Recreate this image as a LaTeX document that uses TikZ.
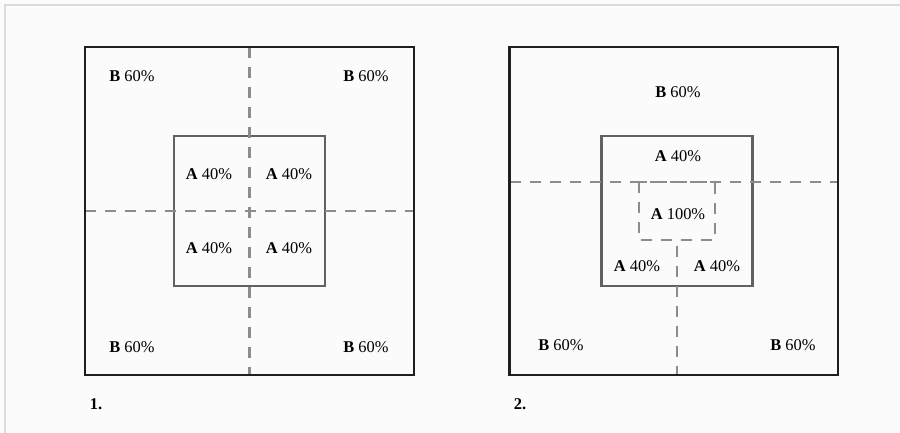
\documentclass[tikz,border=0pt]{standalone}
\usepackage{fontspec}
\setmainfont{Liberation Serif}
\begin{document}
\begin{tikzpicture}[x=1bp,y=-1bp,
  outerbox/.style={draw=black!88,line width=2.6bp},
  innerbox/.style={draw=black!62,line width=2.4bp},
  divider/.style={draw=black!45,line width=2.4bp,dash pattern=on 11bp off 9bp},
  share/.style={inner sep=0pt,font=\fontsize{16.5}{19}\selectfont},
  tag/.style={inner sep=0pt,font=\fontsize{16.5}{19}\selectfont\bfseries}]
  % page background and frame edges
  \fill[black!1.5] (0,0) rectangle (900,433);
  \useasboundingbox (0,0) rectangle (900,433);
  \coordinate (fTL) at (5,433);
  \coordinate (fC) at (5,5);
  \coordinate (fTR) at (900,5);
  \draw[black!14,line width=1.2bp] (fTL) -- (fC) -- (fTR);

  % ---------- panel 1 ----------
  \coordinate (o1a) at (85,47);   \coordinate (o1b) at (414,375);
  \coordinate (i1a) at (174,136); \coordinate (i1b) at (325,286);
  \coordinate (v1t) at (249.5,47); \coordinate (v1b) at (249.5,375);
  \coordinate (h1l) at (85,211);  \coordinate (h1r) at (414,211);
  \draw[innerbox] (i1a) rectangle (i1b);
  \draw[divider] (v1t) -- (v1b);
  \draw[divider] (h1l) -- (h1r);
  \draw[outerbox] (o1a) rectangle (o1b);
  \node[share] (b1a) at (132,76) {\textbf{B} 60\%};
  \node[share] (b1b) at (366,76) {\textbf{B} 60\%};
  \node[share] (b1c) at (132,347) {\textbf{B} 60\%};
  \node[share] (b1d) at (366,347) {\textbf{B} 60\%};
  \node[share] (a1a) at (209,174) {\textbf{A} 40\%};
  \node[share] (a1b) at (289,174) {\textbf{A} 40\%};
  \node[share] (a1c) at (209,248) {\textbf{A} 40\%};
  \node[share] (a1d) at (289,248) {\textbf{A} 40\%};
  \node[tag] (n1) at (96,404) {1.};

  % ---------- panel 2 ----------
  \coordinate (o2a) at (509.5,47);  \coordinate (o2b) at (838,375);
  \coordinate (i2a) at (601.5,136); \coordinate (i2b) at (752.5,286);
  \coordinate (h2l) at (509.5,182); \coordinate (h2r) at (838,182);
  \coordinate (s2a) at (639,182);   \coordinate (s2b) at (715,240);
  \coordinate (v2t) at (677,246);   \coordinate (v2b) at (677,375);
  \draw[innerbox] (i2a) rectangle (i2b);
  \draw[divider] (h2l) -- (h2r);
  \draw[divider] (s2a) rectangle (s2b);
  \draw[divider] (v2t) -- (v2b);
  \draw[outerbox] (o2a) rectangle (o2b);
  \node[share] (b2a) at (678,92) {\textbf{B} 60\%};
  \node[share] (a2a) at (678,156) {\textbf{A} 40\%};
  \node[share] (a2m) at (678,214) {\textbf{A} 100\%};
  \node[share] (a2b) at (637,266) {\textbf{A} 40\%};
  \node[share] (a2c) at (717,266) {\textbf{A} 40\%};
  \node[share] (b2b) at (561,345) {\textbf{B} 60\%};
  \node[share] (b2c) at (793,345) {\textbf{B} 60\%};
  \node[tag] (n2) at (520,404) {2.};
\end{tikzpicture}
\end{document}
